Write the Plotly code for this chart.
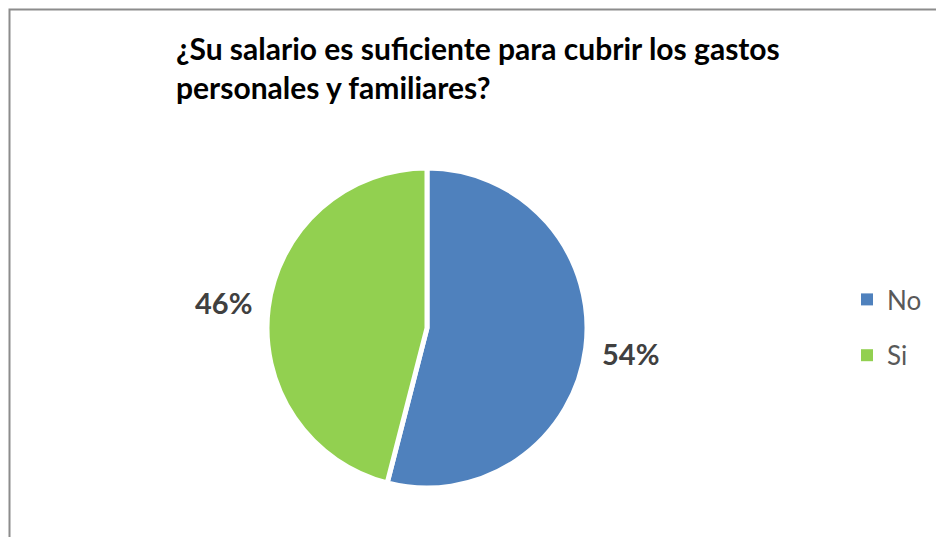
import math
import plotly.graph_objects as go

# ---- data ----
labels = ["No", "Si"]
values = [54, 46]
colors = ["#4F81BD", "#92D050"]
title_text = "¿Su salario es suficiente para cubrir los gastos<br>personales y familiares?"

W, H = 936, 537
FONT = "Lato"

# pie geometry (pixels)
cx, cy, r = 427, 328, 160

fig = go.Figure()
fig.add_trace(go.Pie(
    labels=labels, values=values, sort=False, direction="clockwise", rotation=0,
    marker=dict(colors=colors, line=dict(color="white", width=5)),
    textinfo="none", hoverinfo="label+percent", showlegend=False,
    domain=dict(x=[(cx - 250) / W, (cx + 250) / W],
                y=[1 - (cy + r) / H, 1 - (cy - r) / H]),
))

# legend entries (dummy traces, colours from data)
for lab, col in zip(labels, colors):
    fig.add_trace(go.Scatter(
        x=[None], y=[None], mode="markers", name=lab, legendgroup=lab,
        marker=dict(symbol="square", size=12, color=col), showlegend=True,
    ))

# percentage labels placed outside slices along bisector
total = sum(values)
annotations = []
cum = 0
label_r = r + 45
for v in values:
    mid = (cum + v / 2) / total * 2 * math.pi
    cum += v
    px = cx + label_r * math.sin(mid)
    py = cy - label_r * math.cos(mid)
    annotations.append(dict(
        x=px / W, y=1 - py / H, xref="paper", yref="paper",
        text=f"<b>{round(v / total * 100)}%</b>", showarrow=False,
        font=dict(family=FONT, size=29, color="#404040"),
        xanchor="center", yanchor="middle",
    ))

annotations.append(dict(
    x=174 / W, y=1 - 28 / H, xref="paper", yref="paper",
    text=f"<b>{title_text}</b>", showarrow=False, align="left",
    font=dict(family=FONT, size=30, color="#000000"),
    xanchor="left", yanchor="top",
))

fig.update_layout(
    width=W, height=H,
    margin=dict(l=0, r=0, t=0, b=0),
    paper_bgcolor="white", plot_bgcolor="white",
    xaxis=dict(visible=False, domain=[0.98, 0.99]),
    yaxis=dict(visible=False, domain=[0.98, 0.99]),
    annotations=annotations,
    legend=dict(
        x=847 / W, y=1 - 276 / H, xanchor="left", yanchor="top",
        font=dict(family=FONT, size=26, color="#595959"),
        tracegroupgap=19, itemsizing="constant", bgcolor="rgba(0,0,0,0)",
    ),
    shapes=[dict(type="rect", xref="paper", yref="paper",
                 x0=9.5 / W, x1=1.05, y0=-0.05, y1=1 - 9.5 / H,
                 line=dict(color="#8c8c8c", width=2), layer="below")],
)

fig.write_html("out.html", config={"displayModeBar": False},
               post_script="document.body.style.margin='0px';")
